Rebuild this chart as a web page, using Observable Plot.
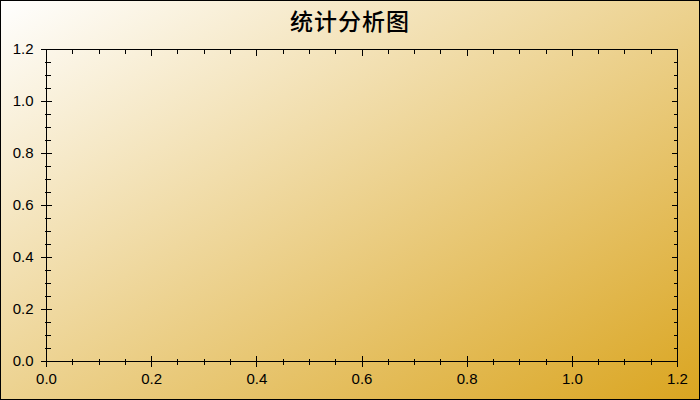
<!DOCTYPE html>
<html>
<head>
<meta charset="utf-8">
<script src="https://cdn.jsdelivr.net/npm/d3@7"></script>
<script src="https://cdn.jsdelivr.net/npm/@observablehq/plot@0.6"></script>
<style>
  html, body { margin: 0; padding: 0; }
  #chart {
    position: relative;
    width: 700px;
    height: 400px;
    overflow: hidden;
    background: linear-gradient(to bottom right, #ffffff 0%, #daa520 100%);
    box-shadow: inset 0 0 0 1px #000;
  }
  #title {
    position: absolute;
    left: 0; top: 9px;
    width: 700px;
    text-align: center;
    font-family: "Noto Sans CJK SC", sans-serif;
    font-size: 23px;
    line-height: 23px;
    letter-spacing: 1px;
    font-weight: 500;
    color: #000;
  }
  #plot { position: absolute; left: 0; top: 0; }
  #plot svg line, #plot svg path, #plot svg rect { shape-rendering: crispEdges; }
</style>
</head>
<body>
<div id="chart">
  <div id="plot"></div>
  <div id="title"></div>
</div>
<script>
const titleText = "统计分析图";
const xDomain = [0, 1.2];
const yDomain = [0, 1.2];
const majorTicks = [0, 0.2, 0.4, 0.6, 0.8, 1.0, 1.2];
const minorTicks = [0.05, 0.1, 0.15, 0.25, 0.3, 0.35, 0.45, 0.5, 0.55, 0.65, 0.7, 0.75,
                    0.85, 0.9, 0.95, 1.05, 1.1, 1.15];

document.getElementById("title").textContent = titleText;

const fmt = d3.format(".1f");
const font = "'Liberation Sans', Arial, sans-serif";

const plot = Plot.plot({
  width: 700,
  height: 400,
  marginLeft: 46,
  marginRight: 23,
  marginTop: 49,
  marginBottom: 39,
  x: {domain: xDomain},
  y: {domain: yDomain},
  style: {background: "transparent", fontFamily: font, fontSize: "15px", color: "#000", overflow: "visible"},
  marks: [
    Plot.frame({stroke: "#000"}),
    // bottom axis: crossing ticks
    Plot.axisX(majorTicks, {anchor: "bottom", tickSize: 11, dy: -5.5, fill: "none", stroke: "#000", label: null}),
    Plot.axisX(minorTicks, {anchor: "bottom", tickSize: 6, dy: -2.5, fill: "none", stroke: "#000", label: null}),
    Plot.axisX(majorTicks, {anchor: "bottom", tickSize: 0, tickPadding: 12, tickFormat: fmt, fill: "#000", fontSize: 15, label: null}),
    // left axis: crossing ticks
    Plot.axisY(majorTicks, {anchor: "left", tickSize: 11, dx: 6, fill: "none", stroke: "#000", label: null}),
    Plot.axisY(minorTicks, {anchor: "left", tickSize: 6, dx: 4.5, fill: "none", stroke: "#000", label: null}),
    Plot.axisY(majorTicks, {anchor: "left", tickSize: 0, tickPadding: 13, tickFormat: fmt, fill: "#000", fontSize: 15, label: null}),
    // top axis: inward ticks
    Plot.axisX(majorTicks, {anchor: "top", tickSize: 6, dy: 6, fill: "none", stroke: "#000", label: null}),
    Plot.axisX(minorTicks, {anchor: "top", tickSize: 4, dy: 4, fill: "none", stroke: "#000", label: null}),
    // right axis: inward ticks
    Plot.axisY(majorTicks, {anchor: "right", tickSize: 6, dx: -6, fill: "none", stroke: "#000", label: null}),
    Plot.axisY(minorTicks, {anchor: "right", tickSize: 4, dx: -4, fill: "none", stroke: "#000", label: null})
  ]
});
document.getElementById("plot").appendChild(plot);
</script>
</body>
</html>
